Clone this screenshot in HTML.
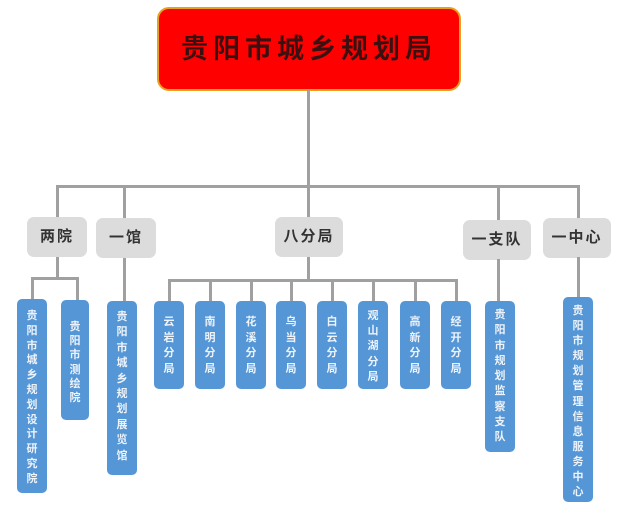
<!DOCTYPE html>
<html><head><meta charset="utf-8"><style>
body{margin:0;width:625px;height:506px;background:#fff;position:relative;overflow:hidden;font-family:"Liberation Sans","Noto Sans CJK SC",sans-serif}
.l{position:absolute;background:#a0a0a0}
.top{position:absolute;left:157px;top:7px;width:300px;height:80px;background:#ff0000;border:2px solid #e8a020;border-radius:12px;color:#3a1010;font-weight:bold;font-size:27px;letter-spacing:5px;text-align:center;line-height:80px}
.g{position:absolute;background:#dcdcdc;border-radius:7px;color:#333;font-weight:bold;font-size:15px;letter-spacing:2px;text-align:center;line-height:40px;height:40px}
.b{position:absolute;background:#5596d6;border-radius:5px;color:#eef3fa;font-size:11px;font-weight:bold;text-align:center;width:30px;box-sizing:border-box;overflow:hidden}
.b span{display:block}
</style></head><body>
<div class="top">贵阳市城乡规划局</div>
<div class="l" style="left:307px;top:89px;width:3px;height:97px"></div>
<div class="l" style="left:56px;top:185px;width:524px;height:3px"></div>
<div class="l" style="left:56px;top:185px;width:3px;height:33px"></div>
<div class="l" style="left:123px;top:185px;width:3px;height:34px"></div>
<div class="l" style="left:307px;top:185px;width:3px;height:32px"></div>
<div class="l" style="left:497px;top:185px;width:3px;height:36px"></div>
<div class="l" style="left:577px;top:185px;width:3px;height:34px"></div>

<div class="g" style="left:27px;top:217px;width:60px">两院</div>
<div class="g" style="left:96px;top:218px;width:60px">一馆</div>
<div class="g" style="left:275px;top:217px;width:68px">八分局</div>
<div class="g" style="left:463px;top:220px;width:68px">一支队</div>
<div class="g" style="left:543px;top:218px;width:68px">一中心</div>

<div class="l" style="left:56px;top:257px;width:3px;height:21px"></div>
<div class="l" style="left:31px;top:277px;width:48px;height:3px"></div>
<div class="l" style="left:31px;top:277px;width:3px;height:22px"></div>
<div class="l" style="left:76px;top:277px;width:3px;height:24px"></div>
<div class="l" style="left:123px;top:258px;width:3px;height:44px"></div>
<div class="l" style="left:307px;top:257px;width:3px;height:23px"></div>
<div class="l" style="left:168px;top:279px;width:289px;height:3px"></div>
<div class="l" style="left:168px;top:279px;width:3px;height:23px"></div>
<div class="l" style="left:209px;top:279px;width:3px;height:23px"></div>
<div class="l" style="left:250px;top:279px;width:3px;height:23px"></div>
<div class="l" style="left:290px;top:279px;width:3px;height:23px"></div>
<div class="l" style="left:331px;top:279px;width:3px;height:23px"></div>
<div class="l" style="left:372px;top:279px;width:3px;height:23px"></div>
<div class="l" style="left:414px;top:279px;width:3px;height:23px"></div>
<div class="l" style="left:455px;top:279px;width:3px;height:23px"></div>
<div class="l" style="left:497px;top:259px;width:3px;height:43px"></div>
<div class="l" style="left:577px;top:257px;width:3px;height:41px"></div>

<div class="b" style="left:17px;top:299px;height:194px;padding-top:10px;line-height:14.8px"><span>贵</span><span>阳</span><span>市</span><span>城</span><span>乡</span><span>规</span><span>划</span><span>设</span><span>计</span><span>研</span><span>究</span><span>院</span></div>
<div class="b" style="left:61px;top:300px;width:28px;height:120px;padding-top:20px;line-height:14.2px"><span>贵</span><span>阳</span><span>市</span><span>测</span><span>绘</span><span>院</span></div>
<div class="b" style="left:107px;top:301px;height:174px;padding-top:9px;line-height:15.4px"><span>贵</span><span>阳</span><span>市</span><span>城</span><span>乡</span><span>规</span><span>划</span><span>展</span><span>览</span><span>馆</span></div>

<div class="b" style="left:154px;top:301px;height:88px;padding-top:14px;line-height:15.6px"><span>云</span><span>岩</span><span>分</span><span>局</span></div>
<div class="b" style="left:195px;top:301px;height:88px;padding-top:14px;line-height:15.6px"><span>南</span><span>明</span><span>分</span><span>局</span></div>
<div class="b" style="left:236px;top:301px;height:88px;padding-top:14px;line-height:15.6px"><span>花</span><span>溪</span><span>分</span><span>局</span></div>
<div class="b" style="left:276px;top:301px;height:88px;padding-top:14px;line-height:15.6px"><span>乌</span><span>当</span><span>分</span><span>局</span></div>
<div class="b" style="left:317px;top:301px;height:88px;padding-top:14px;line-height:15.6px"><span>白</span><span>云</span><span>分</span><span>局</span></div>
<div class="b" style="left:358px;top:301px;height:88px;padding-top:8px;line-height:15.2px"><span>观</span><span>山</span><span>湖</span><span>分</span><span>局</span></div>
<div class="b" style="left:400px;top:301px;height:88px;padding-top:14px;line-height:15.6px"><span>高</span><span>新</span><span>分</span><span>局</span></div>
<div class="b" style="left:441px;top:301px;height:88px;padding-top:14px;line-height:15.6px"><span>经</span><span>开</span><span>分</span><span>局</span></div>

<div class="b" style="left:485px;top:301px;height:151px;padding-top:7px;line-height:15.25px"><span>贵</span><span>阳</span><span>市</span><span>规</span><span>划</span><span>监</span><span>察</span><span>支</span><span>队</span></div>
<div class="b" style="left:563px;top:297px;height:205px;padding-top:7px;line-height:15.1px"><span>贵</span><span>阳</span><span>市</span><span>规</span><span>划</span><span>管</span><span>理</span><span>信</span><span>息</span><span>服</span><span>务</span><span>中</span><span>心</span></div>
</body></html>
